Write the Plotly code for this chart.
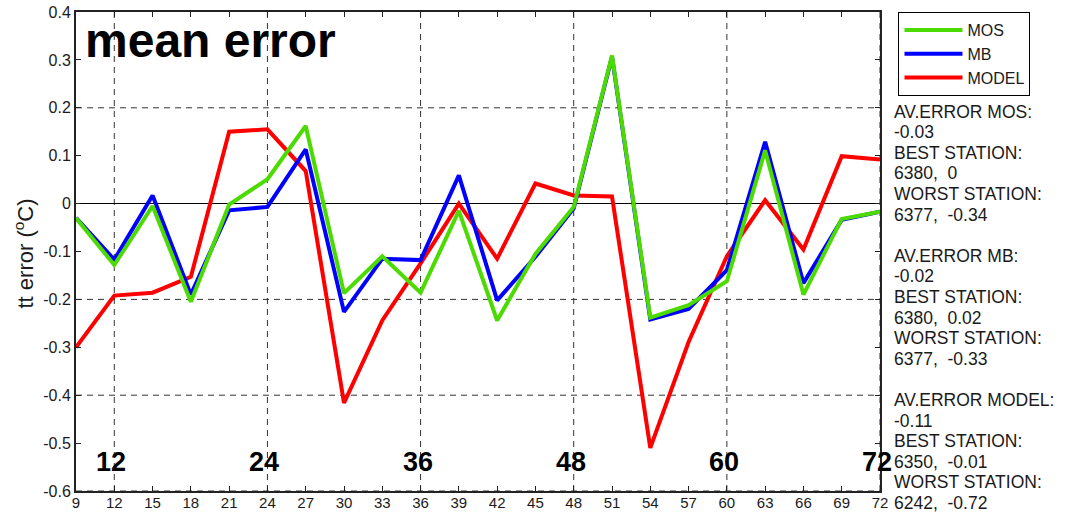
import plotly.graph_objects as go

lead_hours = list(range(9, 73, 3))
mos_err = [-0.030, -0.128, -0.005, -0.205, -0.002, 0.051, 0.162, -0.187, -0.110, -0.186, -0.015,
           -0.244, -0.105, -0.007, 0.309, -0.238, -0.212, -0.162, 0.111, -0.190, -0.032, -0.017]
mb_err = [-0.030, -0.117, 0.017, -0.190, -0.014, -0.007, 0.113, -0.226, -0.115, -0.118, 0.059,
          -0.202, -0.111, -0.010, 0.307, -0.242, -0.220, -0.139, 0.129, -0.166, -0.034, -0.017]
model_err = [-0.300, -0.192, -0.186, -0.153, 0.150, 0.155, 0.068, -0.416, -0.244, -0.125, 0.000,
             -0.115, 0.042, 0.017, 0.015, -0.510, -0.289, -0.110, 0.007, -0.096, 0.099, 0.092]

day_marks = [12, 24, 36, 48, 60, 72]
y_grid = [0.2, -0.2, -0.4, -0.6]
y_ticks = [-0.6, -0.5, -0.4, -0.3, -0.2, -0.1, 0, 0.1, 0.2, 0.3, 0.4]
y_ticklabels = ["-0.6", "-0.5", "-0.4", "-0.3", "-0.2", "-0.1", "0", "0.1", "0.2", "0.3", "0.4"]

stats_lines = [
    "AV.ERROR MOS:", "-0.03", "BEST STATION:", "6380,  0", "WORST STATION:", "6377,  -0.34", "",
    "AV.ERROR MB:", "-0.02", "BEST STATION:", "6380,  0.02", "WORST STATION:", "6377,  -0.33", "",
    "AV.ERROR MODEL:", "-0.11", "BEST STATION:", "6350,  -0.01", "WORST STATION:", "6242,  -0.72",
]

GREEN = "#4cdb00"
BLUE = "#0000ff"
RED = "#ff0000"
FONT = "Liberation Sans, Arial, sans-serif"
TXT = "#1a1a1a"

fig = go.Figure()
fig.add_trace(go.Scatter(x=lead_hours, y=model_err, mode="lines", name="MODEL",
                         line=dict(color=RED, width=4)))
fig.add_trace(go.Scatter(x=lead_hours, y=mb_err, mode="lines", name="MB",
                         line=dict(color=BLUE, width=4)))
fig.add_trace(go.Scatter(x=lead_hours, y=mos_err, mode="lines", name="MOS",
                         line=dict(color=GREEN, width=4)))

# dashed grid lines
for xv in day_marks:
    fig.add_shape(type="line", xref="x", yref="paper", x0=xv, x1=xv, y0=0, y1=1,
                  line=dict(color="#333333", width=1, dash="6px,5px"), layer="below")
for yv in y_grid:
    fig.add_shape(type="line", xref="paper", yref="y", x0=0, x1=1, y0=yv, y1=yv,
                  line=dict(color="#333333", width=1, dash="6px,5px"), layer="below")

# bold day labels
for d in day_marks:
    fig.add_annotation(x=d, y=0.06, xref="x", yref="paper", text=f"<b>{d}</b>",
                       showarrow=False, xshift=-3, yanchor="middle",
                       font=dict(family=FONT, size=27, color="black"))

fig.add_annotation(x=0, y=1, xref="paper", yref="paper", text="<b>mean error</b>",
                   showarrow=False, xanchor="left", yanchor="top", xshift=7, yshift=0,
                   font=dict(family=FONT, size=48, color="black"))

fig.add_annotation(x=0, y=0.5, xref="paper", yref="paper", text="tt error (<sup>o</sup>C)",
                   showarrow=False, textangle=-90, xanchor="center", yanchor="middle",
                   xshift=-53, yshift=-2, font=dict(family=FONT, size=22, color=TXT))

LINE_STEP = 20.6
for i, line in enumerate(stats_lines):
    if not line:
        continue
    fig.add_annotation(x=1, y=1, xref="paper", yref="paper", text=line,
                       showarrow=False, xanchor="left", yanchor="middle", align="left",
                       xshift=12, yshift=-(99.5 + i * LINE_STEP),
                       font=dict(family=FONT, size=17.5, color=TXT))

fig.update_layout(
    width=1067, height=513,
    margin=dict(l=76, r=187, t=12, b=22, autoexpand=False),
    paper_bgcolor="white", plot_bgcolor="white",
    font=dict(family=FONT, size=16, color=TXT),
    showlegend=True,
    legend=dict(x=1.023, y=1.0, xanchor="left", yanchor="top",
                traceorder="reversed", bordercolor="black", borderwidth=1,
                bgcolor="white", font=dict(family=FONT, size=16, color=TXT),
                itemwidth=58, tracegroupgap=0),
    xaxis=dict(range=[9, 72], tickmode="array", tickvals=lead_hours,
               ticktext=[str(v) for v in lead_hours], automargin=False,
               showgrid=False, zeroline=False, showline=True, linecolor="#222222",
               linewidth=2, mirror="ticks", ticks="inside", ticklen=5, tickcolor="#222222",
               tickfont=dict(size=15), ticklabelstandoff=-3),
    yaxis=dict(range=[-0.6, 0.4], tickmode="array", tickvals=y_ticks, ticktext=y_ticklabels,
               automargin=False,
               showgrid=False, zeroline=True, zerolinecolor="black", zerolinewidth=1,
               showline=True, linecolor="#222222", linewidth=2, mirror="ticks",
               ticks="inside", ticklen=5, tickcolor="#222222", tickfont=dict(size=16)),
)

fig.write_html("out.html")
